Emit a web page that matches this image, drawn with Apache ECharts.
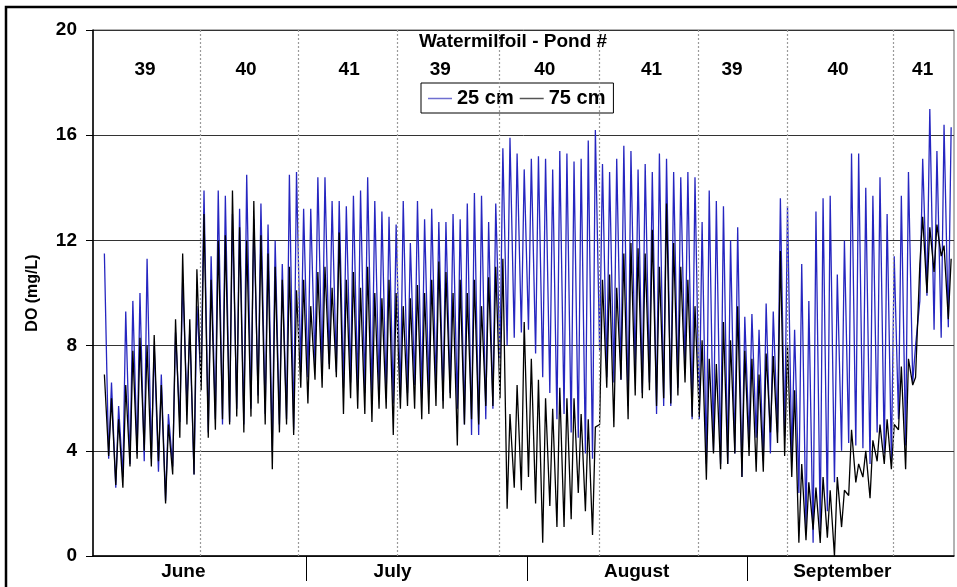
<!DOCTYPE html>
<html>
<head>
<meta charset="utf-8">
<script src="https://cdn.jsdelivr.net/npm/echarts@6/dist/echarts.min.js"></script>
<style>
html,body{margin:0;padding:0;background:#fff;}
#chart{width:957px;height:587px;}
</style>
</head>
<body>
<div id="chart"></div>
<script>
// Day 0 = 1 June. Daily minimum (early morning) and maximum (afternoon) DO readings, mg/L
const blueLow = [null,null,3.7,2.6,3.0,3.5,3.9,3.6,3.7,3.2,2.1,3.4,5.1,5.8,3.1,
  6.6,4.7,5.2,5.0,5.1,5.6,5.0,5.6,6.1,5.4,4.0,5.0,5.2,4.8,
  7.0,6.8,7.2,7.0,7.3,7.0,6.4,6.6,6.3,6.2,6.0,6.3,6.0,5.8,
  6.0,6.2,6.5,6.0,6.3,6.4,5.9,6.2,5.6,5.0,4.6,4.6,5.2,5.6,
  7.5,8.0,8.3,8.5,8.6,7.7,6.8,6.2,5.2,5.4,4.7,4.5,3.9,3.7,
  7.8,6.8,6.6,6.7,5.7,7.0,6.2,6.6,5.4,5.7,5.7,6.4,7.0,5.2,
  5.2,3.5,4.0,3.5,3.5,3.9,3.0,4.4,4.5,3.6,3.9,4.7,4.5,
  3.6,2.4,1.0,0.5,1.0,1.7,2.8,4.0,4.3,4.2,4.1,3.5,4.7,3.9,3.6,
  5.2,4.2,6.6,9.7,9.9,8.6,8.3,8.7];
const blueHigh = [null,11.5,6.6,5.7,9.3,9.7,10.0,11.3,8.0,6.9,5.4,8.5,10.5,8.6,9.5,
  13.9,11.4,13.9,13.7,13.0,13.2,14.5,12.8,13.4,12.6,12.0,11.1,14.5,14.6,
  13.2,13.2,14.4,14.4,13.5,13.5,13.3,13.7,13.9,14.4,13.5,13.1,12.9,12.6,
  13.5,11.9,13.5,12.8,13.2,12.7,12.7,13.0,12.8,13.4,13.8,13.7,12.7,13.4,
  15.5,15.9,15.3,14.7,15.1,15.2,15.1,14.7,15.4,15.3,15.0,15.1,15.8,16.2,
  14.9,14.6,15.1,15.6,15.4,14.7,14.9,14.6,15.3,15.1,14.6,14.4,14.6,14.4,
  12.7,13.9,13.5,13.3,12.0,12.5,9.1,9.2,8.6,9.6,9.3,13.6,13.3,
  8.6,11.1,9.7,13.1,13.6,13.7,10.7,12.0,15.3,15.3,14.0,13.7,14.4,13.0,11.4,
  13.7,14.6,8.0,15.1,17.0,15.4,16.4,16.3];
const blackLow = [null,null,3.8,2.7,2.6,3.4,3.7,4.0,3.4,3.6,2.0,3.1,4.5,5.0,3.1,
  6.3,4.5,4.8,5.2,5.0,5.3,4.7,5.3,5.8,5.0,3.3,4.7,5.0,4.6,
  6.4,5.8,6.7,6.4,7.1,6.8,5.4,6.0,5.6,5.4,5.1,5.6,5.6,4.6,
  5.6,5.7,5.6,5.2,5.4,5.7,5.6,6.0,4.2,5.0,5.2,5.0,5.7,5.7,
  6.0,1.8,2.6,2.5,3.0,2.0,0.5,1.9,1.1,1.1,1.4,2.4,1.7,0.8,
  5.0,6.4,4.9,6.7,5.2,6.1,6.0,6.3,5.7,6.0,5.8,6.1,6.6,5.3,
  5.3,2.9,3.9,3.3,3.5,3.9,3.0,3.8,3.2,3.2,4.7,4.3,3.8,
  3.0,0.5,0.6,1.0,0.5,0.7,0.0,1.1,2.3,2.8,3.0,2.2,3.6,3.5,3.3,
  4.8,3.3,6.5,11.1,10.0,10.8,11.4,9.0];
const blackHigh = [null,6.9,6.0,5.2,6.5,7.8,8.3,8.0,8.4,6.5,5.0,9.0,11.5,9.0,10.9,
  13.0,10.5,12.0,12.2,13.9,12.5,12.0,13.5,12.2,11.5,11.0,10.5,11.0,10.1,
  10.5,9.5,10.8,11.0,10.2,12.3,10.5,10.8,10.2,11.0,10.0,9.8,10.5,10.0,
  9.5,9.8,10.3,10.0,10.5,11.2,10.8,10.0,10.5,10.0,10.5,9.5,10.6,11.0,
  11.3,5.4,6.5,8.9,7.5,6.7,6.0,5.6,6.4,6.0,6.0,5.4,5.2,4.9,
  10.5,10.7,10.2,11.5,11.9,11.7,11.5,12.4,11.0,13.4,11.9,11.0,10.5,9.5,
  8.2,7.5,7.3,8.9,8.2,9.5,7.8,7.5,6.9,7.7,7.6,11.6,8.0,
  6.3,3.5,2.8,2.6,3.0,2.5,3.0,2.5,4.8,3.5,4.0,4.4,5.0,5.2,5.0,
  7.2,7.5,6.8,12.9,12.5,12.6,11.8,11.3];

const seriesNames = ['25 cm', '75 cm'];
const lowTimeOfDay = 0.2;   // fraction of day of the daily minimum
const highTimeOfDay = 0.6;  // fraction of day of the daily maximum

const months = ['June', 'July', 'August', 'September'];
const monthLabelDays = [12.7, 42.1, 76.4, 105.3];
const monthBoundaryDays = [30, 61, 92];
const dayMax = 121;

const pondNames = ['39','40','41','39','40','41','39','40','41'];
const pondLabelDays = [7.3, 21.5, 36, 48.8, 63.5, 78.5, 89.8, 104.7, 116.6];
const pondLabelLevel = 18.5;
const pondSwitchDays = [15.05, 28.8, 42.8, 57.1, 71.1, 85.0, 97.6, 112.4];

const yMin = 0, yMax = 20, yStep = 4;

function buildLine(low, high) {
  const out = [];
  for (let d = 0; d < low.length; d++) {
    if (low[d] != null) out.push([d + lowTimeOfDay, low[d]]);
    if (high[d] != null) out.push([d + highTimeOfDay, high[d]]);
  }
  return out;
}

const FONT = 'Liberation Sans, Arial, sans-serif';
const chart = echarts.init(document.getElementById('chart'), null, {renderer: 'canvas'});
chart.setOption({
  animation: false,
  backgroundColor: '#fff',
  grid: {left: 93, top: 30, right: 3, bottom: 31, show: true, borderColor: '#666', borderWidth: 1},
  legend: {
    data: [
      {name: seriesNames[0], icon: 'rect', itemStyle: {color: '#6f6fd0'}},
      {name: seriesNames[1], icon: 'rect', itemStyle: {color: '#555'}}
    ],
    left: 421, top: 83,
    padding: [5, 8, 4, 7],
    itemWidth: 24, itemHeight: 1.5, itemGap: 6,
    borderColor: '#000', borderWidth: 1,
    backgroundColor: '#fff',
    textStyle: {fontFamily: FONT, fontWeight: 'bold', fontSize: 20, color: '#000', lineHeight: 21}
  },
  graphic: [
    {type: 'text', x: 513, y: 42, z: 50,
     style: {text: 'Watermilfoil - Pond #', font: 'bold 19px ' + FONT, fill: '#000', textAlign: 'center', textVerticalAlign: 'middle'}},
    {type: 'rect', shape: {x: 6, y: 7, width: 1000, height: 1000}, z: 100,
     style: {fill: 'none', stroke: '#000', lineWidth: 2.5}}
  ],
  xAxis: {
    type: 'value', min: 0, max: dayMax,
    axisLine: {show: true, lineStyle: {color: '#000', width: 1.5}},
    splitLine: {show: false},
    axisTick: {show: true, customValues: monthBoundaryDays, length: 25, inside: false, lineStyle: {color: '#000', width: 1}},
    axisLabel: {
      show: true, customValues: monthLabelDays, margin: 6,
      fontFamily: FONT, fontWeight: 'bold', fontSize: 19, color: '#000',
      formatter: function (v) {
        for (let i = 0; i < monthLabelDays.length; i++) if (Math.abs(monthLabelDays[i] - v) < 0.01) return months[i];
        return '';
      }
    }
  },
  yAxis: {
    type: 'value', min: yMin, max: yMax, interval: yStep,
    name: 'DO (mg/L)', nameLocation: 'middle', nameGap: 52, nameRotate: 90,
    nameTextStyle: {fontFamily: FONT, fontWeight: 'bold', fontSize: 16, color: '#000'},
    axisLine: {show: true, lineStyle: {color: '#000', width: 1.5}},
    axisTick: {show: true, inside: false, length: 7, lineStyle: {color: '#000'}},
    axisLabel: {margin: 16, fontFamily: FONT, fontWeight: 'bold', fontSize: 19, color: '#000'},
    splitLine: {show: true, lineStyle: {color: '#333', width: 1}}
  },
  series: [
    {
      name: seriesNames[0], type: 'line', data: buildLine(blueLow, blueHigh),
      symbol: 'none', showSymbol: false, z: 3,
      lineStyle: {color: '#2626c0', width: 1.3}, itemStyle: {color: '#2626c0'}
    },
    {
      name: seriesNames[1], type: 'line', data: buildLine(blackLow, blackHigh),
      symbol: 'none', showSymbol: false, z: 4,
      lineStyle: {color: '#000', width: 1.3}, itemStyle: {color: '#000'}
    },
    {
      name: 'ponds', type: 'scatter', symbolSize: 1, z: 5,
      itemStyle: {opacity: 0},
      data: pondLabelDays.map((d, i) => ({value: [d, pondLabelLevel], name: pondNames[i]})),
      label: {show: true, position: 'inside', formatter: p => p.name, opacity: 1,
              fontFamily: FONT, fontWeight: 'bold', fontSize: 19, color: '#000'},
      silent: true,
      markLine: {
        silent: true, symbol: 'none', label: {show: false},
        lineStyle: {color: '#9a9a9a', width: 1.2, type: [2, 2], opacity: 1},
        data: pondSwitchDays.map(d => ({xAxis: d}))
      }
    }
  ]
});
</script>
</body>
</html>
